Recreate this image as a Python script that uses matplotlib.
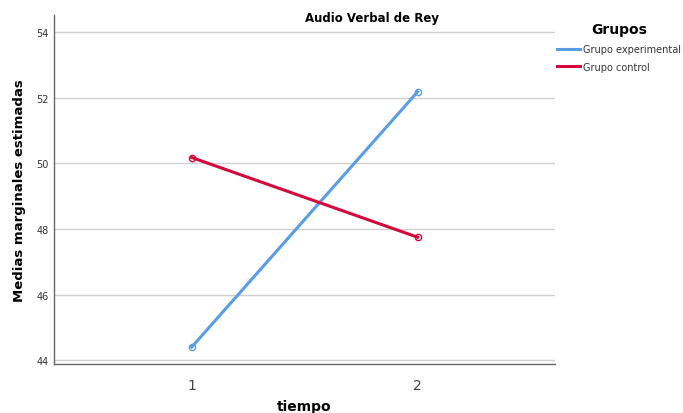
import matplotlib
matplotlib.use('Agg')
import matplotlib.pyplot as plt
from matplotlib.lines import Line2D

tiempo = [1, 2]
experimental = [44.40, 52.18]
control = [50.18, 47.75]
y_ticks = [44, 46, 48, 50, 52, 54]
series_names = ['Grupo experimental', 'Grupo control']

blue = '#5b9ce6'
red = '#d6083b'

fig = plt.figure(figsize=(6.83, 4.14), dpi=100)
ax = fig.add_axes([0.079, 0.118, 0.734, 0.843])

for yt in y_ticks:
    ax.axhline(yt, color='#d0d0d0', lw=1, zorder=0)

ax.plot(tiempo, experimental, color=blue, lw=2.2, marker='o', ms=4.5,
        mfc='none', mec=blue, mew=1)
ax.plot(tiempo, control, color=red, lw=2.2, marker='o', ms=4.5,
        mfc='none', mec=red, mew=1)

ax.set_xlim(0.39, 2.61)
ax.set_ylim(43.88, 54.52)
ax.set_xticks(tiempo)
ax.set_yticks(y_ticks)
ax.tick_params(axis='x', length=0, labelsize=10, colors='#444444', pad=10)
ax.tick_params(axis='y', length=0, labelsize=7, colors='#333333', pad=4)

for s in ['top', 'right']:
    ax.spines[s].set_visible(False)
for s in ['left', 'bottom']:
    ax.spines[s].set_color('#666666')
    ax.spines[s].set_linewidth(1)

fig.text(0.029, 0.54, 'Medias marginales estimadas', fontsize=9.5, fontweight='bold',
         ha='center', va='center', rotation=90)
fig.text(0.4458, 0.018, 'tiempo', fontsize=10, fontweight='bold', ha='center', va='center')
fig.text(0.545, 0.955, 'Audio Verbal de Rey', fontsize=8.5, fontweight='bold', ha='center', va='center')

handles = [Line2D([], [], color=blue, lw=2.2), Line2D([], [], color=red, lw=2.2)]
leg = fig.legend(handles, series_names, loc='upper left', bbox_to_anchor=(0.816, 0.945),
                 frameon=False, title='Grupos', fontsize=7, handlelength=2.3,
                 handletextpad=0.3, labelspacing=0.8, borderpad=0, borderaxespad=0)
leg.get_title().set_fontweight('bold')
leg.get_title().set_fontsize(10)
leg._legend_box.sep = 6
for t in leg.get_texts():
    t.set_color('#333333')

fig.savefig('out.png', dpi=100)
